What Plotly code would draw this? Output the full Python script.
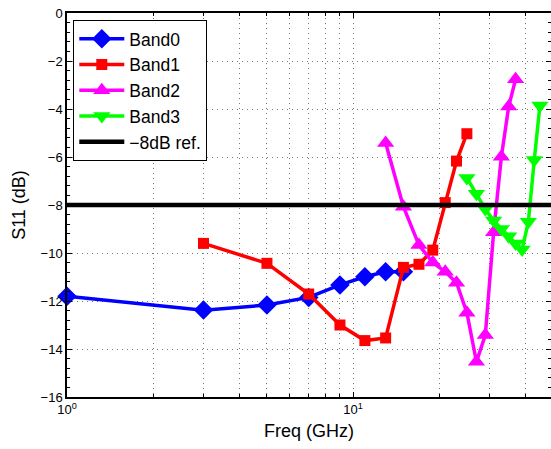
import plotly.graph_objects as go

# ---- data ----
band0_f = [1, 3, 5, 7, 9, 11, 13, 15]
band0_s11 = [-11.8, -12.38, -12.17, -11.85, -11.33, -10.99, -10.78, -10.78]

band1_f = [3, 5, 7, 9, 11, 13, 15, 17, 19, 21, 23, 25]
band1_s11 = [-9.6, -10.43, -11.71, -13.0, -13.65, -13.54, -10.6, -10.47, -9.88, -7.9, -6.17, -5.03]

band2_f = [13, 15, 17, 19, 21, 23, 25, 27, 29, 31, 33, 35, 37]
band2_s11 = [-5.42, -8.07, -9.67, -10.4, -10.78, -11.24, -12.49, -14.53, -13.42, -9.14, -5.99, -3.9, -2.76]

band3_f = [25, 27, 29, 31, 33, 35, 37, 39, 41, 43, 45]
band3_s11 = [-6.87, -7.53, -8.17, -8.65, -9.0, -9.3, -9.6, -9.85, -8.7, -6.13, -3.85]

ref_level = -8
x_min, x_max = 1, 49.2
y_ticks = [0, -2, -4, -6, -8, -10, -12, -14, -16]
x_minor = [2, 3, 4, 5, 6, 7, 8, 9, 20, 30, 40]

FONT = "Liberation Sans, Arial, Helvetica, sans-serif"
GRID = "#777777"
GRIDDASH = "1px,4px"

fig = go.Figure()
series = [
    ("Band0", band0_f, band0_s11, "#0000ff", "diamond", 15),
    ("Band1", band1_f, band1_s11, "#ff0000", "square", 11),
    ("Band2", band2_f, band2_s11, "#ff00ff", "triangle-up", 15),
    ("Band3", band3_f, band3_s11, "#00ff00", "triangle-down", 15),
]
for name, xs, ys, col, sym, sz in series:
    fig.add_trace(go.Scatter(
        x=xs, y=ys, name=name, mode="lines+markers",
        line=dict(color=col, width=3.5),
        marker=dict(symbol=sym, size=sz, color=col, line=dict(width=0)),
        cliponaxis=False,
    ))

fig.add_trace(go.Scatter(
    x=[x_min, x_max], y=[ref_level, ref_level], name="\u22128dB ref.",
    mode="lines", line=dict(color="black", width=4.5),
))

fig.update_layout(
    width=551, height=449,
    margin=dict(l=67, r=0, t=13, b=52),
    paper_bgcolor="white", plot_bgcolor="white",
    font=dict(family=FONT, size=13, color="black"),
    showlegend=True,
    legend=dict(
        x=0.013, y=0.982, xanchor="left", yanchor="top",
        bgcolor="white", bordercolor="black", borderwidth=1,
        font=dict(family=FONT, size=17.5, color="black"),
        tracegroupgap=0, itemsizing="trace", itemwidth=45,
    ),
)

fig.update_xaxes(
    type="log", range=[0, 1.692], automargin=False,
    tickvals=[1, 10], ticktext=["10<sup>0</sup>", "10<sup>1</sup>"],
    ticks="inside", ticklen=5, tickcolor="black",
    showline=True, linecolor="black", linewidth=1.5, mirror="ticks",
    showgrid=True, gridcolor=GRID, griddash=GRIDDASH, gridwidth=1,
    zeroline=False,
    minor=dict(tickvals=x_minor, ticks="inside", ticklen=3, tickcolor="black",
               showgrid=True, gridcolor=GRID, griddash=GRIDDASH, gridwidth=1),
    title=dict(text="Freq (GHz)", font=dict(family=FONT, size=18), standoff=8),
    tickfont=dict(family=FONT, size=13),
)
fig.update_yaxes(
    range=[-16, 0], automargin=False,
    tickvals=y_ticks, ticktext=[("\u2212" + str(-v)) if v < 0 else str(v) for v in y_ticks],
    ticks="inside", ticklen=5, tickcolor="black",
    showline=True, linecolor="black", linewidth=1.5, mirror="ticks",
    showgrid=True, gridcolor=GRID, griddash=GRIDDASH, gridwidth=1,
    zeroline=False,
    minor=dict(dtick=0.4, ticks="inside", ticklen=3, tickcolor="black", showgrid=False),
    title=dict(text="S11 (dB)", font=dict(family=FONT, size=18), standoff=10),
    tickfont=dict(family=FONT, size=13),
)

# remove the default 8px page margin so the figure fills the 551x449 window
fig.write_html("out.html", config={"displayModeBar": False},
               post_script="document.body.style.margin='0';")
